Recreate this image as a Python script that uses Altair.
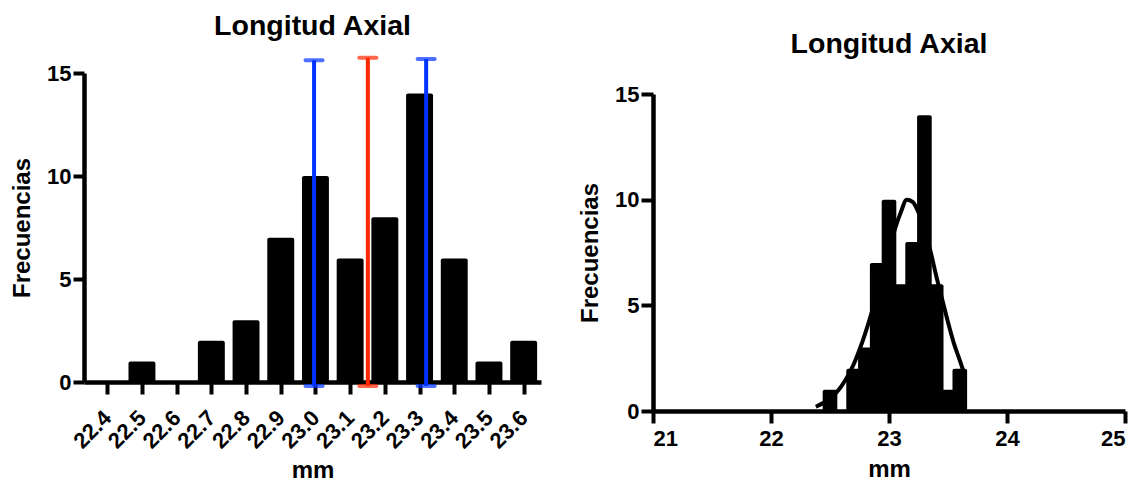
import altair as alt
import pandas as pd

# ---- data ----
bins = [22.4, 22.5, 22.6, 22.7, 22.8, 22.9, 23.0, 23.1, 23.2, 23.3, 23.4, 23.5, 23.6]
counts = [0, 1, 0, 2, 3, 7, 10, 6, 8, 14, 6, 1, 2]

# vertical marker lines (mean in red, mean +/- SD in blue)
marker_x = [22.996, 23.151, 23.319]
marker_lo = [-0.2, -0.2, -0.2]
marker_hi = [15.62, 15.74, 15.68]
marker_kind = ["sd", "mean", "sd"]

# fitted curve on the right panel
curve_x = [22.38, 22.45, 22.50, 22.55, 22.60, 22.65, 22.70, 22.75, 22.80, 22.85,
           22.90, 22.95, 23.00, 23.05, 23.10, 23.15, 23.20, 23.25, 23.30, 23.35,
           23.40, 23.45, 23.50, 23.55, 23.60, 23.63]
curve_y = [0.2, 0.4, 0.6, 0.85, 1.2, 1.65, 2.2, 2.9, 3.7, 4.6,
           5.6, 6.6, 7.6, 8.6, 9.4, 10.0, 9.9, 9.4, 8.6, 7.6,
           6.4, 5.3, 4.2, 3.2, 2.4, 1.9]

x_ticks_right = [21, 22, 23, 24, 25]
y_ticks = [0, 5, 10, 15]

FONT = "Liberation Sans, Arial, sans-serif"

axis_style = dict(
    domainColor="black", domainWidth=4.5, tickColor="black", tickWidth=4,
    labelFont=FONT, labelFontSize=22, labelFontWeight="bold", labelColor="black",
    titleFont=FONT, titleFontSize=24, titleFontWeight="bold", titleColor="black",
    grid=False, labelOverlap=False,
)

# ---- left panel ----
hist_l = pd.DataFrame({"bin": bins, "count": counts})
hist_l["x0"] = hist_l["bin"] - 0.0388
hist_l["x1"] = hist_l["bin"] + 0.0388

xl = alt.Scale(domain=[22.333, 23.65], nice=False, zero=False)
yl = alt.Scale(domain=[0, 15], nice=False)
ax_xl = alt.Axis(values=bins, format=".1f", labelAngle=-45, title="mm", tickSize=12,
                 labelPadding=20, titlePadding=6, labelBaseline="middle", **axis_style)
ax_yl = alt.Axis(values=y_ticks, title="Frecuencias", tickSize=11, labelPadding=2,
                 titlePadding=12, **axis_style)

bars_l = alt.Chart(hist_l).mark_rect(
    color="black", cornerRadiusTopLeft=2, cornerRadiusTopRight=2
).encode(
    x=alt.X("x0:Q", scale=xl, axis=ax_xl),
    x2="x1:Q",
    y=alt.Y("count:Q", scale=yl, axis=ax_yl),
    y2=alt.datum(0),
)

marks = pd.DataFrame({"x": marker_x, "lo": marker_lo, "hi": marker_hi, "kind": marker_kind})
mcolor = alt.Color("kind:N", scale=alt.Scale(domain=["sd", "mean"], range=["#0033ff", "#ff2600"]), legend=None)

rules = alt.Chart(marks).mark_rule(strokeWidth=4).encode(
    x=alt.X("x:Q", scale=xl, axis=ax_xl), y=alt.Y("lo:Q", scale=yl, axis=ax_yl), y2="hi:Q", color=mcolor)
cap_hi = alt.Chart(marks).mark_tick(orient="horizontal", size=21, thickness=4, cornerRadius=2).encode(
    x=alt.X("x:Q", scale=xl, axis=ax_xl), y=alt.Y("hi:Q", scale=yl, axis=ax_yl), color=mcolor)
cap_lo = alt.Chart(marks).mark_tick(orient="horizontal", size=21, thickness=4, cornerRadius=2).encode(
    x=alt.X("x:Q", scale=xl, axis=ax_xl), y=alt.Y("lo:Q", scale=yl, axis=ax_yl), color=mcolor)

left = alt.layer(bars_l, rules, cap_hi, cap_lo).properties(
    width=457, height=309,
    title=alt.TitleParams("Longitud Axial", font=FONT, fontSize=28.5, fontWeight="bold",
                          color="black", offset=15),
)

# ---- right panel ----
hist_r = pd.DataFrame({"bin": bins, "count": counts})
hist_r["x0"] = hist_r["bin"] - 0.062
hist_r["x1"] = hist_r["bin"] + 0.062

xr = alt.Scale(domain=[21, 25], nice=False, zero=False)
# plot area is 338 px tall; the 0-15 axis occupies its lower 317 px
yr = alt.Scale(domain=[0, 15], nice=False, range=[338, 21])
ax_xr = alt.Axis(values=x_ticks_right, format="d", labelAngle=0, title="mm", tickSize=12,
                 labelPadding=5, titlePadding=8, **axis_style)
ax_yr = alt.Axis(values=y_ticks, title="Frecuencias", tickSize=12, labelPadding=2,
                 titlePadding=12, **axis_style)

bars_r = alt.Chart(hist_r).mark_rect(
    color="black", cornerRadiusTopLeft=2, cornerRadiusTopRight=2
).encode(
    x=alt.X("x0:Q", scale=xr, axis=ax_xr),
    x2="x1:Q",
    y=alt.Y("count:Q", scale=yr, axis=ax_yr),
    y2=alt.datum(0),
)

curve = alt.Chart(pd.DataFrame({"x": curve_x, "y": curve_y})).mark_line(
    color="black", strokeWidth=4, interpolate="monotone"
).encode(x=alt.X("x:Q", scale=xr, axis=ax_xr), y=alt.Y("y:Q", scale=yr, axis=ax_yr))

right = alt.layer(bars_r, curve).properties(
    width=472, height=338,
    title=alt.TitleParams("Longitud Axial", font=FONT, fontSize=28.5, fontWeight="bold",
                          color="black", offset=15),
)

chart = alt.hconcat(left, right, spacing=37).properties(
    padding={"left": 2, "top": 4, "right": 2, "bottom": 2},
).configure_view(stroke=None)

chart.save("out.html", embed_options={"renderer": "svg", "actions": False})
